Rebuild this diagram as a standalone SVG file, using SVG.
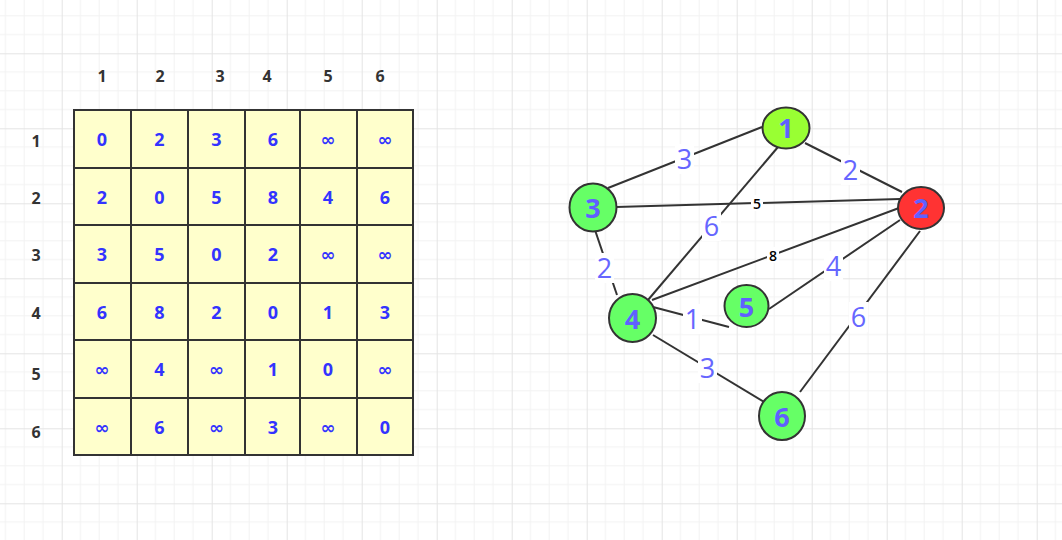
<svg xmlns="http://www.w3.org/2000/svg" width="1062" height="540" viewBox="0 0 1062 540">
<defs>
<pattern id="grid" patternUnits="userSpaceOnUse" x="-13.3" y="-21.7" width="75" height="75">
<path d="M18.75 0V75M37.5 0V75M56.25 0V75M0 18.75H75M0 37.5H75M0 56.25H75" stroke="#f2f2f2" stroke-width="1" fill="none"/>
<path d="M0.5 0V75M0 0.5H75" stroke="#e4e4e4" stroke-width="1" fill="none"/>
</pattern>
<style>
.hdr{font-family:"Open Sans","Noto Sans",sans-serif;font-weight:bold;font-size:16px;fill:#333;text-anchor:middle;dominant-baseline:central}
.cell{font-family:"Open Sans","Noto Sans",sans-serif;font-weight:bold;font-size:18px;fill:#3333ff;text-anchor:middle;dominant-baseline:central}
.inf{font-family:"DejaVu Sans",sans-serif;font-weight:bold;font-size:18px;fill:#3333ff;text-anchor:middle;dominant-baseline:central}
.tbl{fill:#ffffcc;stroke:#333;stroke-width:2}
.tl{stroke:#333;stroke-width:2}
.edge{stroke:#333;stroke-width:2;fill:none}
.lbl{font-family:"Open Sans","Noto Sans",sans-serif;font-size:27px;fill:#6666ff;text-anchor:middle;dominant-baseline:central}
.slbl{font-family:"Open Sans","Noto Sans",sans-serif;font-weight:600;font-size:14px;fill:#000;text-anchor:middle;dominant-baseline:central}
.lbg{fill:#fff}
.node{stroke:#333;stroke-width:2}
.ntx{font-family:"Open Sans","Noto Sans",sans-serif;font-weight:bold;font-size:27px;fill:#6060ff;text-anchor:middle;dominant-baseline:central}
</style>
</defs>
<rect width="1062" height="540" fill="#fff"/>
<rect width="1062" height="540" fill="url(#grid)"/>

<g id="headers">
<text class="hdr" x="102" y="76">1</text>
<text class="hdr" x="160" y="76">2</text>
<text class="hdr" x="220" y="76">3</text>
<text class="hdr" x="267" y="76">4</text>
<text class="hdr" x="328" y="76">5</text>
<text class="hdr" x="380" y="76">6</text>
<text class="hdr" x="36" y="141">1</text>
<text class="hdr" x="36" y="198">2</text>
<text class="hdr" x="36" y="255">3</text>
<text class="hdr" x="36" y="313">4</text>
<text class="hdr" x="36" y="374">5</text>
<text class="hdr" x="36" y="432">6</text>
</g>

<g id="matrix">
<rect class="tbl" x="74" y="110" width="339" height="345"/>
<path class="tl" d="M131 110V455M188 110V455M245 110V455M300 110V455M357 110V455M74 168H413M74 225H413M74 283H413M74 340H413M74 398H413"/>
<g>
<text class="cell" x="102" y="139">0</text><text class="cell" x="159.5" y="139">2</text><text class="cell" x="216.5" y="139">3</text><text class="cell" x="273" y="139">6</text><text class="inf" x="328" y="139">∞</text><text class="inf" x="385" y="139">∞</text>
<text class="cell" x="102" y="197">2</text><text class="cell" x="159.5" y="197">0</text><text class="cell" x="216.5" y="197">5</text><text class="cell" x="273" y="197">8</text><text class="cell" x="328" y="197">4</text><text class="cell" x="385" y="197">6</text>
<text class="cell" x="102" y="254">3</text><text class="cell" x="159.5" y="254">5</text><text class="cell" x="216.5" y="254">0</text><text class="cell" x="273" y="254">2</text><text class="inf" x="328" y="254">∞</text><text class="inf" x="385" y="254">∞</text>
<text class="cell" x="102" y="312">6</text><text class="cell" x="159.5" y="312">8</text><text class="cell" x="216.5" y="312">2</text><text class="cell" x="273" y="312">0</text><text class="cell" x="328" y="312">1</text><text class="cell" x="385" y="312">3</text>
<text class="inf" x="102" y="369">∞</text><text class="cell" x="159.5" y="369">4</text><text class="inf" x="216.5" y="369">∞</text><text class="cell" x="273" y="369">1</text><text class="cell" x="328" y="369">0</text><text class="inf" x="385" y="369">∞</text>
<text class="inf" x="102" y="427">∞</text><text class="cell" x="159.5" y="427">6</text><text class="inf" x="216.5" y="427">∞</text><text class="cell" x="273" y="427">3</text><text class="inf" x="328" y="427">∞</text><text class="cell" x="385" y="427">0</text>
</g>
</g>

<g id="connectors">
<line class="edge" x1="762" y1="127" x2="608" y2="188"/>
<line class="edge" x1="805" y1="143" x2="902" y2="192"/>
<line class="edge" x1="616" y1="207" x2="900" y2="199"/>
<line class="edge" x1="778" y1="147" x2="648" y2="300"/>
<line class="edge" x1="595" y1="230" x2="617" y2="295"/>
<line class="edge" x1="652" y1="300" x2="899" y2="208"/>
<line class="edge" x1="769" y1="309" x2="900" y2="220"/>
<line class="edge" x1="653" y1="307" x2="729" y2="327"/>
<line class="edge" x1="653" y1="335" x2="764" y2="402"/>
<line class="edge" x1="920" y1="231" x2="800" y2="392"/>
<g>
<rect class="lbg" x="675" y="144" width="19" height="30"/><text class="lbl" x="684.5" y="158">3</text>
<rect class="lbg" x="841" y="155" width="19" height="30"/><text class="lbl" x="850.5" y="169">2</text>
<rect class="lbg" x="751" y="195" width="12" height="16"/><text class="slbl" x="757" y="203">5</text>
<rect class="lbg" x="702" y="211" width="19" height="30"/><text class="lbl" x="711.5" y="225">6</text>
<rect class="lbg" x="595" y="253" width="19" height="30"/><text class="lbl" x="604.5" y="267">2</text>
<rect class="lbg" x="767" y="247" width="12" height="16"/><text class="slbl" x="773" y="255">8</text>
<rect class="lbg" x="824" y="251" width="19" height="30"/><text class="lbl" x="833.5" y="265">4</text>
<rect class="lbg" x="683" y="304" width="19" height="30"/><text class="lbl" x="692.5" y="318">1</text>
<rect class="lbg" x="698" y="353" width="19" height="30"/><text class="lbl" x="707.5" y="367">3</text>
<rect class="lbg" x="849" y="302" width="19" height="30"/><text class="lbl" x="858.5" y="316">6</text>
</g>
</g>

<g id="node1"><ellipse class="node" cx="786" cy="128" rx="23.5" ry="20.5" fill="#99ff33"/><text class="ntx" x="786" y="127">1</text></g>
<g id="node2"><ellipse class="node" cx="921" cy="208" rx="23" ry="21" fill="#ff3333"/><text class="ntx" x="921" y="207">2</text></g>
<g id="node3"><ellipse class="node" cx="593" cy="207.5" rx="23.5" ry="24" fill="#66ff66"/><text class="ntx" x="593" y="207">3</text></g>
<g id="node4"><ellipse class="node" cx="632.5" cy="318" rx="23.5" ry="24" fill="#66ff66"/><text class="ntx" x="632.5" y="318">4</text></g>
<g id="node5"><ellipse class="node" cx="746.5" cy="306" rx="22" ry="21" fill="#66ff66"/><text class="ntx" x="746.5" y="306">5</text></g>
<g id="node6"><ellipse class="node" cx="782" cy="416" rx="23" ry="24" fill="#66ff66"/><text class="ntx" x="782" y="416">6</text></g>
</svg>
